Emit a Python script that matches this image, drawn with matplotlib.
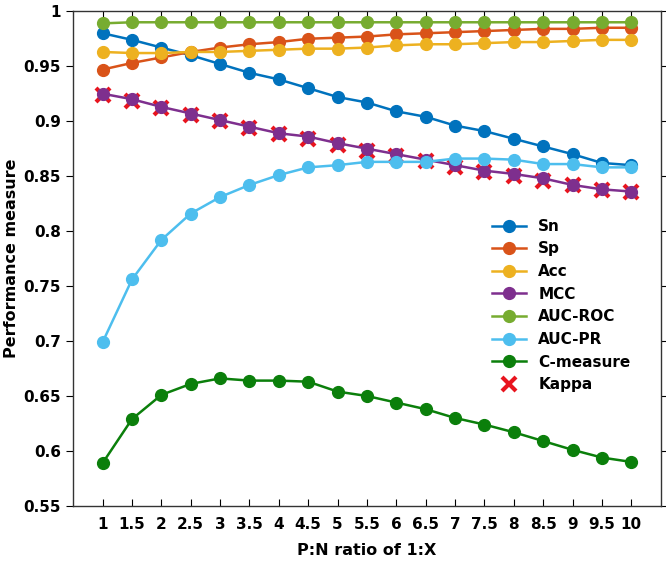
import matplotlib.pyplot as plt

# P:N ratio 1:X
ratio = [1, 1.5, 2, 2.5, 3, 3.5, 4, 4.5, 5, 5.5, 6, 6.5, 7, 7.5, 8, 8.5, 9, 9.5, 10]

sn = [0.980, 0.974, 0.967, 0.960, 0.952, 0.944, 0.938, 0.930, 0.922, 0.917, 0.909,
      0.904, 0.896, 0.891, 0.884, 0.877, 0.870, 0.862, 0.860]
sp = [0.947, 0.953, 0.958, 0.963, 0.967, 0.970, 0.972, 0.975, 0.976, 0.977, 0.979,
      0.980, 0.981, 0.982, 0.983, 0.984, 0.984, 0.985, 0.985]
acc = [0.963, 0.962, 0.962, 0.963, 0.963, 0.964, 0.965, 0.966, 0.966, 0.967, 0.969,
       0.970, 0.970, 0.971, 0.972, 0.972, 0.973, 0.974, 0.974]
mcc = [0.925, 0.920, 0.913, 0.907, 0.901, 0.895, 0.889, 0.886, 0.880, 0.875, 0.870,
       0.865, 0.860, 0.855, 0.852, 0.848, 0.842, 0.838, 0.836]
auc_roc = [0.989, 0.990, 0.990, 0.990, 0.990, 0.990, 0.990, 0.990, 0.990, 0.990, 0.990,
           0.990, 0.990, 0.990, 0.990, 0.990, 0.990, 0.990, 0.990]
auc_pr = [0.699, 0.756, 0.792, 0.816, 0.831, 0.842, 0.851, 0.858, 0.860, 0.863, 0.863,
          0.863, 0.866, 0.866, 0.865, 0.861, 0.861, 0.858, 0.858]
c_measure = [0.589, 0.629, 0.651, 0.661, 0.666, 0.664, 0.664, 0.663, 0.654, 0.650, 0.644,
             0.638, 0.630, 0.624, 0.617, 0.609, 0.601, 0.594, 0.590]
kappa = [0.924, 0.918, 0.912, 0.906, 0.900, 0.894, 0.888, 0.884, 0.878, 0.873, 0.868,
         0.864, 0.858, 0.854, 0.850, 0.846, 0.842, 0.837, 0.836]

plt.rcParams['font.family'] = 'DejaVu Sans'
plt.rcParams['font.weight'] = 'bold'

fig = plt.figure(figsize=(6.66, 5.64), dpi=100)
ax = fig.add_axes([0.110, 0.103, 0.882, 0.877])

# kappa under the MCC markers
ax.plot(ratio, kappa, linestyle='none', marker='x', color='#E8141E', markersize=10,
        markeredgewidth=3, label='Kappa', zorder=2)

series = [
    ('Sn', sn, '#0072BD'),
    ('Sp', sp, '#D95319'),
    ('Acc', acc, '#EDB120'),
    ('MCC', mcc, '#7E2F8E'),
    ('AUC-ROC', auc_roc, '#77AC30'),
    ('AUC-PR', auc_pr, '#4DBEEE'),
    ('C-measure', c_measure, '#0B7F0B'),
]
for name, vals, col in series:
    ax.plot(ratio, vals, '-o', color=col, linewidth=1.8, markersize=8.5, label=name, zorder=3)

ax.set_xlim(0.5, 10.5)
ax.set_ylim(0.55, 1)
ax.set_xticks(ratio)
ax.set_xticklabels([('%g' % r) for r in ratio])
ax.set_yticks([0.55, 0.6, 0.65, 0.7, 0.75, 0.8, 0.85, 0.9, 0.95, 1])
ax.set_yticklabels(['0.55', '0.6', '0.65', '0.7', '0.75', '0.8', '0.85', '0.9', '0.95', '1'])
ax.tick_params(axis='x', direction='in', top=True, length=5, labelsize=11, pad=8)
ax.tick_params(axis='y', direction='out', length=5, labelsize=11, pad=4)
ax.tick_params(axis='y', which='major', right=True)
for s in ax.spines.values():
    s.set_color('#333333')
    s.set_linewidth(1.0)

ax.set_xlabel('P:N ratio of 1:X', fontsize=11.5, fontweight='bold', labelpad=8)
ax.set_ylabel('Performance measure', fontsize=11.5, fontweight='bold', labelpad=3)

handles, labels = ax.get_legend_handles_labels()
order = [1, 2, 3, 4, 5, 6, 7, 0]
ax.legend([handles[i] for i in order], [labels[i] for i in order], frameon=False,
          loc='center left', bbox_to_anchor=(0.69, 0.405),
          handlelength=2.2, labelspacing=0.5, prop={'weight': 'bold', 'size': 11})

fig.savefig('out.png', dpi=100)
